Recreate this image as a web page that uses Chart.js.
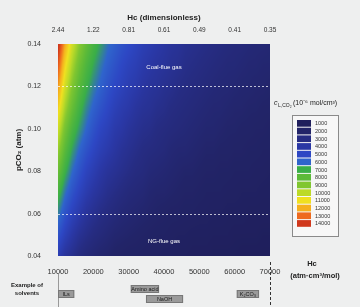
<!DOCTYPE html>
<html><head><meta charset="utf-8">
<script src="https://cdn.jsdelivr.net/npm/chart.js@4.4.1/dist/chart.umd.min.js"></script>
<style>html,body{margin:0;padding:0;background:#eeefef;} canvas{display:block;}</style>
</head><body><canvas id="c" width="360" height="307"></canvas>
<script>
// Henry's constant H_c (atm·cm³/mol) grid columns
const H_VALUES = [10000,12000,14000,16000,18000,20000,22000,24000,26000,28000,30000,32000,34000,36000,38000,40000,42000,44000,46000,48000,50000,52000,54000,56000,58000,60000,62000,64000,66000,68000,70000];
// pCO2 (atm) grid rows, top to bottom
const P_VALUES = [0.14,0.13,0.12,0.11,0.10,0.09,0.08,0.07,0.06,0.05,0.04];
// c_L,CO2
const C_014 = [14000,11700,10000,8800,7800,7000,6400,5800,5400,5000,4700,4400,4100,3900,3700,3500,3300,3200,3000,2900,2800,2700,2600,2500,2400,2300,2300,2200,2100,2100,2000];
const C_013 = [13000,10800,9300,8100,7200,6500,5900,5400,5000,4600,4300,4100,3800,3600,3400,3300,3100,3000,2800,2700,2600,2500,2400,2300,2200,2200,2100,2000,2000,1900,1900];
const C_012 = [12000,10000,8600,7500,6700,6000,5500,5000,4600,4300,4000,3800,3500,3300,3200,3000,2900,2700,2600,2500,2400,2300,2200,2100,2100,2000,1900,1900,1800,1800,1700];
const C_011 = [11000,9200,7900,6900,6100,5500,5000,4600,4200,3900,3700,3400,3200,3100,2900,2800,2600,2500,2400,2300,2200,2100,2000,2000,1900,1800,1800,1700,1700,1600,1600];
const C_010 = [10000,8300,7100,6300,5600,5000,4500,4200,3800,3600,3300,3100,2900,2800,2600,2500,2400,2300,2200,2100,2000,1900,1900,1800,1700,1700,1600,1600,1500,1500,1400];
const C_009 = [9000,7500,6400,5600,5000,4500,4100,3800,3500,3200,3000,2800,2600,2500,2400,2300,2100,2000,2000,1900,1800,1700,1700,1600,1600,1500,1500,1400,1400,1300,1300];
const C_008 = [8000,6700,5700,5000,4400,4000,3600,3300,3100,2900,2700,2500,2400,2200,2100,2000,1900,1800,1700,1700,1600,1500,1500,1400,1400,1300,1300,1300,1200,1200,1100];
const C_007 = [7000,5800,5000,4400,3900,3500,3200,2900,2700,2500,2300,2200,2100,1900,1800,1800,1700,1600,1500,1500,1400,1300,1300,1300,1200,1200,1100,1100,1100,1000,1000];
const C_006 = [6000,5000,4300,3800,3300,3000,2700,2500,2300,2100,2000,1900,1800,1700,1600,1500,1400,1400,1300,1300,1200,1200,1100,1100,1000,1000,1000,900,900,900,900];
const C_005 = [5000,4200,3600,3100,2800,2500,2300,2100,1900,1800,1700,1600,1500,1400,1300,1300,1200,1100,1100,1000,1000,1000,900,900,900,800,800,800,800,700,700];
const C_004 = [4000,3300,2900,2500,2200,2000,1800,1700,1500,1400,1300,1300,1200,1100,1100,1000,1000,900,900,800,800,800,700,700,700,700,600,600,600,600,600];
const C_ROWS = [C_014,C_013,C_012,C_011,C_010,C_009,C_008,C_007,C_006,C_005,C_004];

const X_TICKS = [10000,20000,30000,40000,50000,60000,70000];
const TOP_TICK_LABELS = ['2.44','1.22','0.81','0.61','0.49','0.41','0.35'];
const LEGEND_LEVELS = [1000,2000,3000,4000,5000,6000,7000,8000,9000,10000,11000,12000,13000,14000];
const LEGEND_COLORS = ['#1f1f5c','#222468','#262c82','#2a37a4','#2d47c4','#2f64cc','#3aae48','#5cba38','#80c630','#bcda28','#f0e020','#f5b01e','#ee6a1e','#d0381c'];
const SOLVENTS = ['ILs','Amino acid','NaOH','K₂CO₃'];
const SOLVENT_H_FROM = [10000,30600,34900,60600];
const SOLVENT_H_TO = [14600,38600,45400,66900];
const SOLVENT_ROW = [0,-1,1,0];
const REGIONS = ['Coal-flue gas','NG-flue gas'];
const REGION_H = [40000,40000];
const REGION_P = [0.129,0.047];
const REGION_LINES_P = [0.12,0.06];

const FONT = '"Liberation Sans", Arial, sans-serif';
const BAND_SHIFT = 400; // colour bands are centred slightly below each level

function hexRgb(h){return [parseInt(h.substr(1,2),16),parseInt(h.substr(3,2),16),parseInt(h.substr(5,2),16)];}
const LRGB = LEGEND_COLORS.map(hexRgb);
function colorFor(raw){
  const v = raw + BAND_SHIFT;
  if (v <= LEGEND_LEVELS[0]) return LRGB[0];
  const n = LEGEND_LEVELS.length;
  if (v >= LEGEND_LEVELS[n-1]) return LRGB[n-1];
  for (let i=0;i<n-1;i++){
    if (v <= LEGEND_LEVELS[i+1]){
      const t = (v-LEGEND_LEVELS[i])/(LEGEND_LEVELS[i+1]-LEGEND_LEVELS[i]);
      return LRGB[i].map((c,k)=>Math.round(c+(LRGB[i+1][k]-c)*t));
    }
  }
}
function locate(arr, v){
  const asc = arr[arr.length-1] > arr[0];
  for (let i=0;i<arr.length-1;i++){
    const a0 = arr[i], a1 = arr[i+1];
    const inside = asc ? (v>=a0 && v<=a1) : (v<=a0 && v>=a1);
    if (inside) return [i, (v-a0)/(a1-a0)];
  }
  if (asc ? v < arr[0] : v > arr[0]) return [0,0];
  return [arr.length-2,1];
}

const points = [];
P_VALUES.forEach((p,i)=>H_VALUES.forEach((h,j)=>points.push({x:h,y:p,v:C_ROWS[i][j]})));

const heatPlugin = {
  id:'heat',
  beforeDatasetsDraw(chart){
    const {ctx, chartArea:a, scales:{x,y}} = chart;
    const data = chart.data.datasets[0].data;
    const nC = H_VALUES.length;
    const val = (i,j)=>data[i*nC+j].v;
    const L = Math.round(a.left), T = Math.round(a.top);
    const W = Math.round(a.right) - L, Hh = Math.round(a.bottom) - T;
    const img = ctx.createImageData(W,Hh);
    for (let py=0; py<Hh; py++){
      const pv = y.getValueForPixel(T+py+0.5);
      const [ri, rf] = locate(P_VALUES, pv);
      for (let px=0; px<W; px++){
        const hv = x.getValueForPixel(L+px+0.5);
        const [ci, cf] = locate(H_VALUES, hv);
        const v = (1-rf)*((1-cf)*val(ri,ci) + cf*val(ri,ci+1)) + rf*((1-cf)*val(ri+1,ci) + cf*val(ri+1,ci+1));
        const c = colorFor(v);
        const k = (py*W+px)*4;
        img.data[k]=c[0]; img.data[k+1]=c[1]; img.data[k+2]=c[2]; img.data[k+3]=255;
      }
    }
    ctx.putImageData(img, L, T);
    ctx.save();
    ctx.strokeStyle = 'rgba(255,255,255,0.7)';
    ctx.lineWidth = 1;
    ctx.setLineDash([2,2]);
    REGION_LINES_P.forEach(p=>{
      const yy = Math.round(y.getPixelForValue(p))+0.5;
      ctx.beginPath(); ctx.moveTo(a.left,yy); ctx.lineTo(a.right,yy); ctx.stroke();
    });
    ctx.setLineDash([]);
    ctx.fillStyle = '#ffffff';
    ctx.font = '6px '+FONT;
    ctx.textAlign = 'center'; ctx.textBaseline = 'middle';
    REGIONS.forEach((t,i)=>ctx.fillText(t, x.getPixelForValue(REGION_H[i]), y.getPixelForValue(REGION_P[i])));
    ctx.restore();
  },
  afterDraw(chart){
    const {ctx, scales:{x}} = chart;
    ctx.save();
    const bx = 292, by = 115, bw = 46, bh = 121;
    ctx.fillStyle = '#f7f7f7';
    ctx.fillRect(bx,by,bw,bh);
    ctx.strokeStyle = '#8a8a8a'; ctx.lineWidth = 1;
    ctx.strokeRect(bx+0.5,by+0.5,bw,bh);
    const sh = 7.7;
    LEGEND_LEVELS.forEach((lv,i)=>{
      const yy = by+5+i*sh;
      ctx.fillStyle = LEGEND_COLORS[i];
      ctx.fillRect(bx+5, yy, 14, sh-1);
      ctx.fillStyle = '#333';
      ctx.font = '5.5px '+FONT;
      ctx.textAlign = 'left'; ctx.textBaseline = 'middle';
      ctx.fillText(String(lv), bx+23, yy+sh/2);
    });
    ctx.fillStyle = '#222';
    ctx.textBaseline = 'alphabetic'; ctx.textAlign = 'left';
    ctx.font = 'italic 7px '+FONT;
    ctx.fillText('c', 274, 105);
    ctx.font = '5px '+FONT;
    ctx.fillText('L,CO₂', 278, 107);
    ctx.font = '7px '+FONT;
    ctx.fillText('(10⁻⁶ mol/cm³)', 293, 105);
    ctx.font = 'bold 7.5px '+FONT;
    ctx.textAlign = 'center';
    ctx.fillText('Hc', 312, 266);
    ctx.fillText('(atm·cm³/mol)', 315, 278);
    const xl = Math.round(x.getPixelForValue(X_TICKS[0]))+0.5;
    const xr = Math.round(x.getPixelForValue(X_TICKS[X_TICKS.length-1]))+0.5;
    ctx.strokeStyle = '#999'; ctx.lineWidth = 1;
    ctx.beginPath(); ctx.moveTo(xl,274); ctx.lineTo(xl,307); ctx.stroke();
    ctx.strokeStyle = '#333'; ctx.setLineDash([3,2]);
    ctx.beginPath(); ctx.moveTo(xr,262); ctx.lineTo(xr,307); ctx.stroke();
    ctx.setLineDash([]);
    ctx.font = 'bold 6px '+FONT;
    ctx.fillStyle = '#222';
    ctx.fillText('Example of', 27, 287);
    ctx.fillText('solvents', 27, 295);
    SOLVENTS.forEach((s,i)=>{
      const x0 = x.getPixelForValue(SOLVENT_H_FROM[i]);
      const x1 = x.getPixelForValue(SOLVENT_H_TO[i]);
      const yy = 290 + SOLVENT_ROW[i]*5;
      ctx.fillStyle = '#9a9a9a';
      ctx.fillRect(x0, yy, x1-x0, 8);
      ctx.strokeStyle = '#777';
      ctx.strokeRect(x0+0.5, yy+0.5, x1-x0-1, 7);
      ctx.fillStyle = '#1a1a1a';
      ctx.font = '5.5px '+FONT;
      ctx.textBaseline = 'middle';
      ctx.fillText(s, (x0+x1)/2, yy+4.5);
    });
    ctx.restore();
  }
};

new Chart(document.getElementById('c'), {
  type:'scatter',
  data:{datasets:[{data:points, pointRadius:0, pointHoverRadius:0, showLine:false}]},
  options:{
    responsive:false, animation:false, devicePixelRatio:1,
    layout:{padding:{left:0,right:90,top:0,bottom:0}},
    plugins:{legend:{display:false}, tooltip:{enabled:false}},
    scales:{
      x:{type:'linear', position:'bottom', min:10000, max:70000,
        afterBuildTicks:s=>{s.ticks = X_TICKS.map(v=>({value:v}));},
        ticks:{color:'#333', font:{size:7.5, family:FONT}, padding:3, maxRotation:0, callback:v=>String(v)},
        grid:{display:false}, border:{display:false},
        afterFit:s=>{s.height = 51;}},
      x2:{type:'linear', position:'top', min:10000, max:70000,
        afterBuildTicks:s=>{s.ticks = X_TICKS.map(v=>({value:v}));},
        ticks:{color:'#333', font:{size:6.5, family:FONT}, padding:2, maxRotation:0, callback:(v,i)=>TOP_TICK_LABELS[i]},
        grid:{display:false}, border:{display:false},
        title:{display:true, text:'Hc (dimensionless)', color:'#222', font:{size:8, weight:'bold', family:FONT}, padding:{top:13,bottom:0}},
        afterFit:s=>{s.height = 44;}},
      y:{type:'linear', min:0.04, max:0.14,
        ticks:{stepSize:0.02, color:'#333', font:{size:7, family:FONT}, padding:9, callback:v=>Number(v).toFixed(2)},
        grid:{display:false}, border:{display:false},
        title:{display:true, text:'pCO₂ (atm)', color:'#222', font:{size:8, weight:'bold', family:FONT}, padding:{top:14,bottom:0}},
        afterFit:s=>{s.width = 58;}}
    }
  },
  plugins:[heatPlugin]
});
</script></body></html>
